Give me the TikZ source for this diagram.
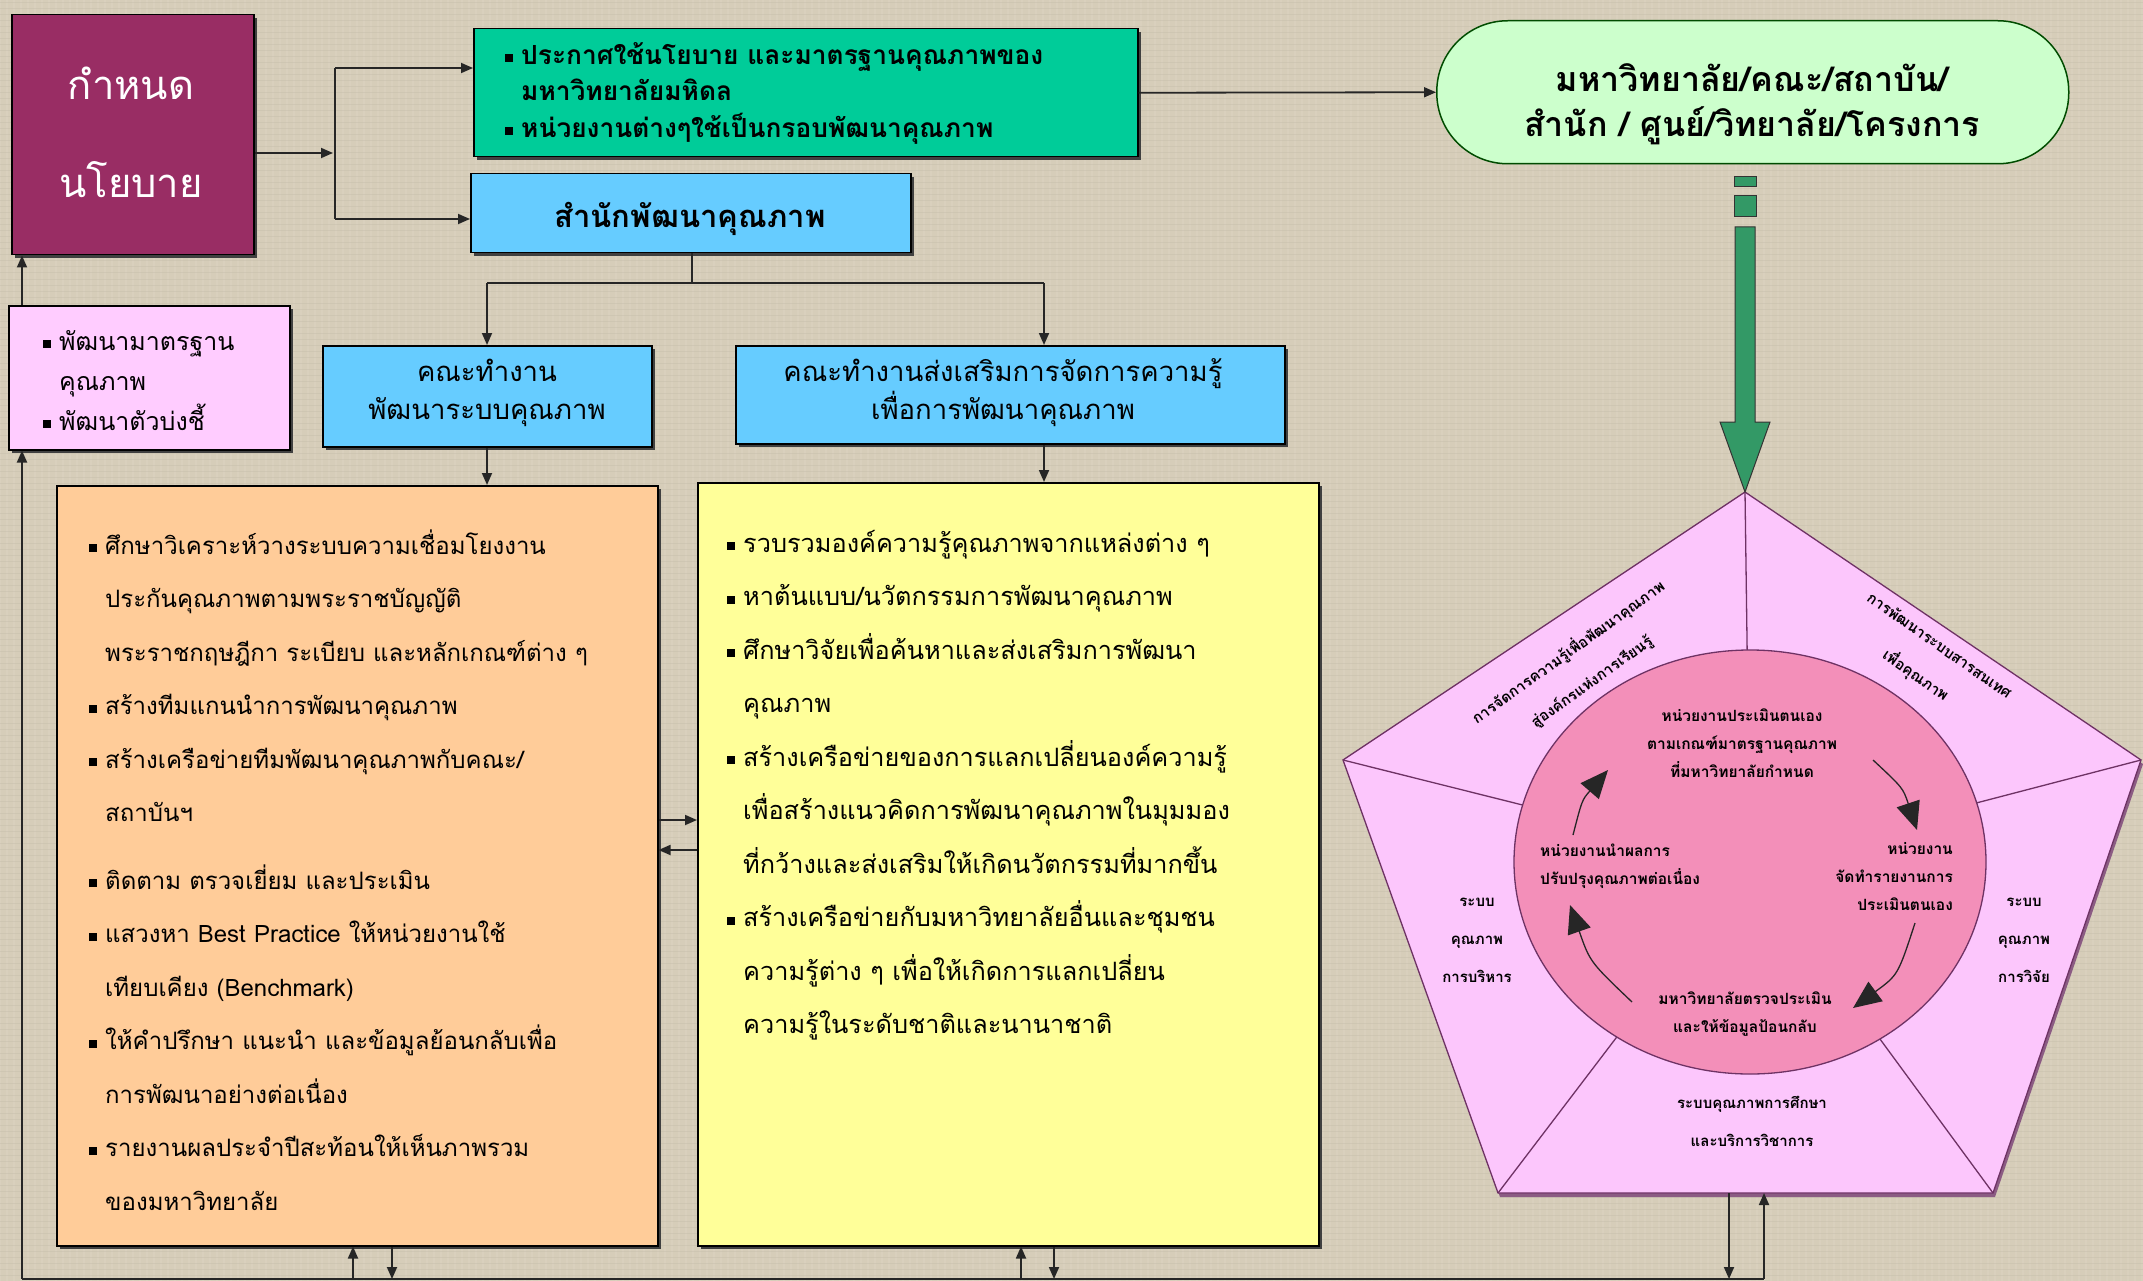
\documentclass[tikz,border=0pt]{standalone}
\usepackage{fontspec}
\usetikzlibrary{arrows.meta,shadows,shapes.geometric}
\newfontfamily\thai[Script=Thai]{Loma}
\definecolor{bgc}{RGB}{214,205,185}
\definecolor{maroonc}{RGB}{153,45,100}
\definecolor{tealc}{RGB}{0,204,153}
\definecolor{skyc}{RGB}{102,204,255}
\definecolor{pinkc}{RGB}{255,204,255}
\definecolor{orangec}{RGB}{255,204,153}
\definecolor{yellowc}{RGB}{255,255,153}
\definecolor{mintc}{RGB}{204,255,204}
\definecolor{arrowg}{RGB}{51,153,102}
\definecolor{rosec}{RGB}{243,143,185}
\definecolor{pentc}{RGB}{252,198,252}
\definecolor{pentline}{RGB}{110,50,100}
\newcommand\bul{\llap{\rule[2pt]{8pt}{8pt}\hspace{8pt}}}
\newcommand\firstline{\rule{0pt}{32pt}}
\begin{document}
\begin{tikzpicture}[x=1pt,y=-1pt,
  box/.style={draw=black, line width=1.5pt, inner sep=0pt, anchor=north west,
     drop shadow={shadow xshift=3pt, shadow yshift=-3pt, fill=black!75, opacity=1}},
  ln/.style={draw=black!85, line width=1.8pt},
  arr/.style={ln, -{Triangle[length=12pt,width=10pt]}},
  carr/.style={draw=black!85, line width=1.3pt, -{Triangle[length=28pt,width=24pt]}},
  txt/.style={inner sep=0pt, text=black},
  body/.style={txt, anchor=north west, align=left},
  small/.style={txt, font=\thai\bfseries\fontsize{15.5}{28}\selectfont},
  seg/.style={txt, font=\thai\bfseries\fontsize{15}{38}\selectfont, align=center},
  rseg/.style={txt, font=\thai\bfseries\fontsize{15}{18}\selectfont},
]
\useasboundingbox (0,0) rectangle (2143,1281);
\fill[bgc] (0,0) rectangle (2143,1281);
% canvas texture
\foreach \i in {0,7,...,2143} {\draw[bgc!88!white, line width=1.2pt, opacity=0.6] (\i,0) -- (\i,1281);}
\foreach \j in {3,9,...,1281} {\draw[bgc!90!black, line width=1pt, opacity=0.35] (0,\j) -- (2143,\j);}

% ---------- top row ----------
\node[box, fill=maroonc, minimum width=242, minimum height=240] (pol) at (11,14) {};
\node[txt, text=white, align=center, font=\thai\fontsize{40}{98}\selectfont] (poltxt) at (131,132) {กำหนด\\นโยบาย};

\node[box, fill=tealc, minimum width=664, minimum height=128] (pgreen) at (473,28) {};
\node[txt, anchor=north west, align=left, font=\thai\bfseries\fontsize{26.3}{36.5}\selectfont] (pgreentxt) at (521,32)
  {\firstline\bul ประกาศใช้นโยบาย และมาตรฐานคุณภาพของ\\มหาวิทยาลัยมหิดล\\\bul หน่วยงานต่างๆใช้เป็นกรอบพัฒนาคุณภาพ};

\node[box, fill=skyc, minimum width=440, minimum height=79] (office) at (470,173) {};
\node[txt, font=\thai\bfseries\fontsize{31}{34}\selectfont] (officetxt) at (690,219) {สำนักพัฒนาคุณภาพ};

\node[draw=black!70!green, line width=1.5pt, fill=mintc, rounded corners=71pt, minimum width=632, minimum height=143, anchor=north west, inner sep=0] (uni) at (1436,20) {};
\node[txt, align=center, font=\thai\bfseries\fontsize{34}{45}\selectfont] (unitxt) at (1752,104) {มหาวิทยาลัย/คณะ/สถาบัน/\\สำนัก / ศูนย์/วิทยาลัย/โครงการ};

% ---------- second row ----------
\node[box, fill=pinkc, minimum width=281, minimum height=144] (pink) at (8,305) {};
\node[txt, anchor=north west, align=left, font=\thai\fontsize{25}{40}\selectfont] (pinktxt) at (59,318)
  {\firstline\bul พัฒนามาตรฐาน\\คุณภาพ\\\bul พัฒนาตัวบ่งชี้};

\node[box, fill=skyc, minimum width=329, minimum height=101] (team1) at (322,345) {};
\node[txt, align=center, font=\thai\fontsize{27.5}{38}\selectfont] (team1txt) at (487,393) {คณะทำงาน\\พัฒนาระบบคุณภาพ};
\node[box, fill=skyc, minimum width=549, minimum height=98] (team2) at (735,345) {};
\node[txt, align=center, font=\thai\fontsize{27.5}{38}\selectfont] (team2txt) at (1003,393) {คณะทำงานส่งเสริมการจัดการความรู้\\เพื่อการพัฒนาคุณภาพ};

% ---------- big boxes ----------
\node[box, fill=orangec, minimum width=601, minimum height=760] (orange) at (56,485) {};
\node[body, font=\thai\fontsize{24}{53.5}\selectfont] (orangetxt) at (105,522)
  {\firstline\bul ศึกษาวิเคราะห์วางระบบความเชื่อมโยงงาน\\
   ประกันคุณภาพตามพระราชบัญญัติ\\
   พระราชกฤษฎีกา ระเบียบ และหลักเกณฑ์ต่าง ๆ\\
   \bul สร้างทีมแกนนำการพัฒนาคุณภาพ\\
   \bul สร้างเครือข่ายทีมพัฒนาคุณภาพกับคณะ/\\
   สถาบันฯ\\[14pt]
   \bul ติดตาม ตรวจเยี่ยม และประเมิน\\
   \bul แสวงหา Best Practice ให้หน่วยงานใช้\\
   เทียบเคียง (Benchmark)\\
   \bul ให้คำปรึกษา แนะนำ และข้อมูลย้อนกลับเพื่อ\\
   การพัฒนาอย่างต่อเนื่อง\\
   \bul รายงานผลประจำปีสะท้อนให้เห็นภาพรวม\\
   ของมหาวิทยาลัย};

\node[box, fill=yellowc, minimum width=621, minimum height=763] (yellow) at (697,482) {};
\node[body, font=\thai\fontsize{25.3}{53.5}\selectfont] (yellowtxt) at (743,520)
  {\firstline\bul รวบรวมองค์ความรู้คุณภาพจากแหล่งต่าง ๆ\\
   \bul หาต้นแบบ/นวัตกรรมการพัฒนาคุณภาพ\\
   \bul ศึกษาวิจัยเพื่อค้นหาและส่งเสริมการพัฒนา\\
   คุณภาพ\\
   \bul สร้างเครือข่ายของการแลกเปลี่ยนองค์ความรู้\\
   เพื่อสร้างแนวคิดการพัฒนาคุณภาพในมุมมอง\\
   ที่กว้างและส่งเสริมให้เกิดนวัตกรรมที่มากขึ้น\\
   \bul สร้างเครือข่ายกับมหาวิทยาลัยอื่นและชุมชน\\
   ความรู้ต่าง ๆ เพื่อให้เกิดการแลกเปลี่ยน\\
   ความรู้ในระดับชาติและนานาชาติ};

% ---------- pentagon ----------
\coordinate (pT) at (1745,492);
\coordinate (pL) at (1343,760);
\coordinate (pR) at (2141,760);
\coordinate (pBL) at (1498,1193);
\coordinate (pBR) at (1993,1193);
\coordinate (pC) at (1750,862);
\filldraw[fill=pentc, draw=pentline, line width=1.3pt,
  drop shadow={shadow xshift=2pt, shadow yshift=-4pt, fill=pentline!80, opacity=1}]
  (pT) -- (pR) -- (pBR) -- (pBL) -- (pL) -- cycle;
\draw[pentline, line width=1.3pt] (pT) -- (pC) (pL) -- (pC) (pR) -- (pC) (pBL) -- (pC) (pBR) -- (pC);
\node[ellipse, draw=pentline, line width=1.3pt, fill=rosec, minimum width=472, minimum height=424, inner sep=0] (cyc) at (pC) {};

\node[small, align=center] (c1) at (1742,743) {หน่วยงานประเมินตนเอง\\ตามเกณฑ์มาตรฐานคุณภาพ\\ที่มหาวิทยาลัยกำหนด};
\node[small, align=right, anchor=east] (c2) at (1953,877) {หน่วยงาน\\จัดทำรายงานการ\\ประเมินตนเอง};
\node[small, align=center] (c3) at (1745,1014) {มหาวิทยาลัยตรวจประเมิน\\และให้ข้อมูลป้อนกลับ};
\node[small, align=left, anchor=west] (c4) at (1540,866) {หน่วยงานนำผลการ\\ปรับปรุงคุณภาพต่อเนื่อง};

\coordinate (a1s) at (1873,760); \coordinate (a1e) at (1917,830);
\coordinate (a2s) at (1915,923); \coordinate (a2e) at (1853,1008);
\coordinate (a3s) at (1632,1002); \coordinate (a3e) at (1570,905);
\coordinate (a4s) at (1573,835); \coordinate (a4e) at (1608,770);
\draw[carr] (a1s) .. controls (1903,788) .. (a1e);
\draw[carr] (a2s) .. controls (1898,975) .. (a2e);
\draw[carr] (a3s) .. controls (1590,962) .. (a3e);
\draw[carr] (a4s) .. controls (1582,800) .. (a4e);

\node[rseg, rotate=35.7] (s1a) at (1568,652) {การจัดการความรู้เพื่อพัฒนาคุณภาพ};
\node[rseg, rotate=35.7] (s1b) at (1592,682) {สู่องค์กรแห่งการเรียนรู้};
\node[rseg, rotate=-35] (s2a) at (1940,645) {การพัฒนาระบบสารสนเทศ};
\node[rseg, rotate=-35] (s2b) at (1916,675) {เพื่อคุณภาพ};
\node[seg] (s3) at (1477,940) {ระบบ\\คุณภาพ\\การบริหาร};
\node[seg] (s4) at (2024,940) {ระบบ\\คุณภาพ\\การวิจัย};
\node[seg] (s5) at (1752,1121) {ระบบคุณภาพการศึกษา\\และบริการวิชาการ};

% ---------- green block arrow ----------
\filldraw[fill=arrowg, draw=black!80, line width=1pt] (1734,177) rectangle (1756,187);
\filldraw[fill=arrowg, draw=black!80, line width=1pt] (1734,196) rectangle (1756,217);
\filldraw[fill=arrowg, draw=black!80, line width=1pt]
  (1735,227) -- (1755,227) -- (1755,422) -- (1770,422) -- (pT) -- (1720,422) -- (1735,422) -- cycle;

% ---------- connectors ----------
\coordinate (j1) at (333,153);
\coordinate (ja) at (335,68);
\coordinate (jb) at (335,219);
\draw[arr] (pol.east |- j1) -- (j1);
\draw[ln] (ja) -- (jb);
\draw[arr] (ja) -- (ja -| pgreen.west);
\draw[arr] (jb) -- (jb -| office.west);
\draw[arr] (pgreen.east) -- (uni.west);

\coordinate (jc) at (692,283);
\coordinate (jd) at (487,283);
\coordinate (je) at (1044,283);
\draw[ln] (jc |- office.south) -- (jc);
\draw[ln] (jd) -- (je);
\draw[arr] (jd) -- (jd |- team1.north);
\draw[arr] (je) -- (je |- team2.north);
\draw[arr] (jd |- team1.south) -- (jd |- orange.north);
\draw[arr] (je |- team2.south) -- (je |- yellow.north);

\coordinate (k1) at (677,820);
\coordinate (k2) at (677,850);
\draw[arr] (k1 -| orange.east) -- (k1 -| yellow.west);
\draw[arr] (k2 -| yellow.west) -- (k2 -| orange.east);

\coordinate (bl) at (22,1279);
\coordinate (br) at (1764,1279);
\draw[ln] (bl) -- (br);
\draw[arr] (bl) -- (bl |- pink.south);
\draw[arr] (bl |- pink.north) -- (bl |- pol.south);

\coordinate (o1) at (353,1279); \coordinate (o2) at (392,1279);
\draw[arr] (o1) -- (o1 |- orange.south);
\draw[arr] (o2 |- orange.south) -- (o2);
\coordinate (y1) at (1021,1279); \coordinate (y2) at (1054,1279);
\draw[arr] (y1) -- (y1 |- yellow.south);
\draw[arr] (y2 |- yellow.south) -- (y2);
\coordinate (q1) at (1729,1279); \coordinate (q2) at (1764,1279);
\draw[arr] (q1 |- pBL) -- (q1);
\draw[arr] (q2) -- (q2 |- pBL);
\end{tikzpicture}
\end{document}
